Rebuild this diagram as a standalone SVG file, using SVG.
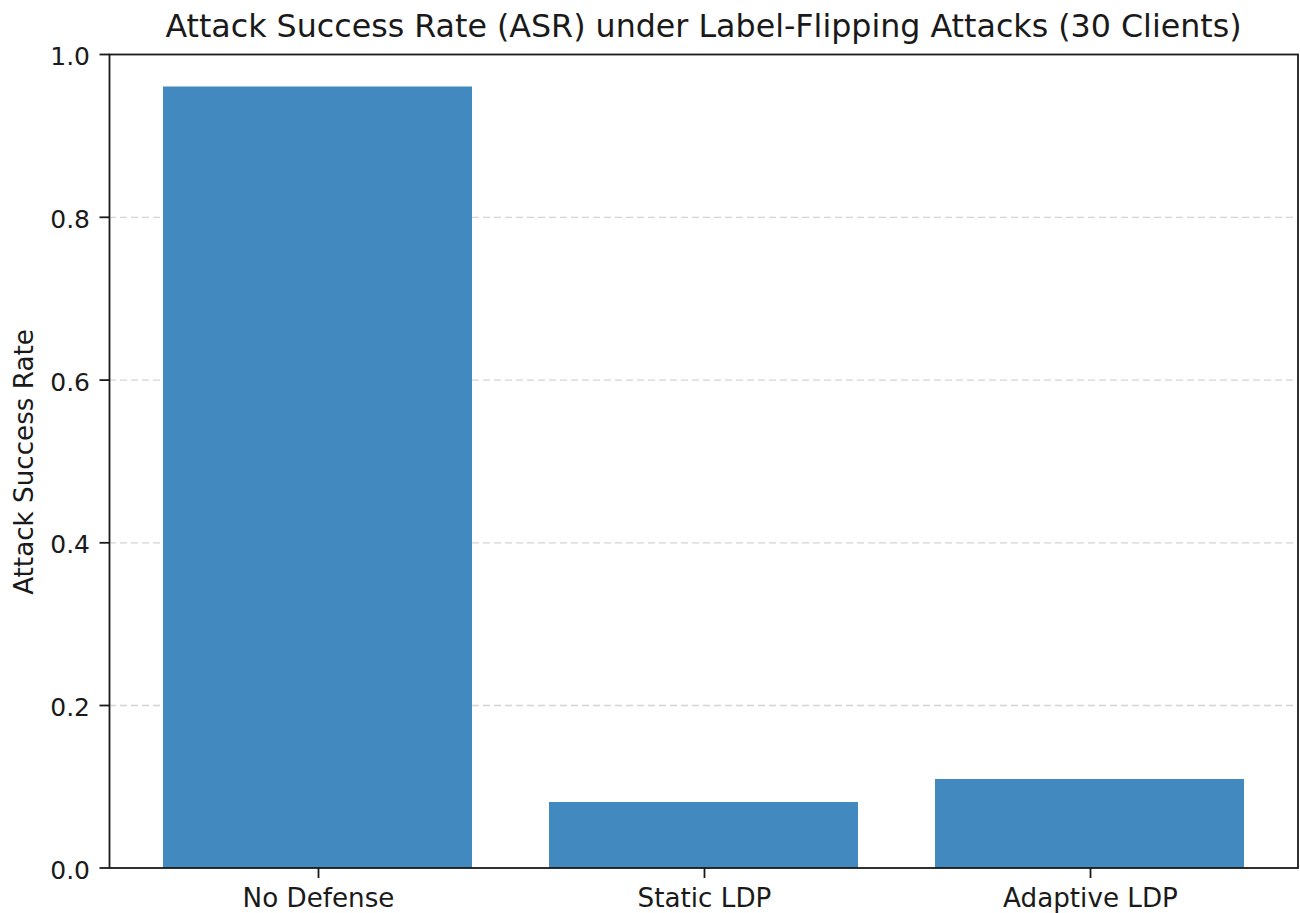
<svg xmlns="http://www.w3.org/2000/svg" width="1300" height="913" viewBox="0 0 1300 913">
<style>
text{font-family:"DejaVu Sans","Liberation Sans",sans-serif;fill:#1a1a1a}
.tick{font-size:26.2px}
.ytick{font-size:25px}
.grid{stroke:#b0b0b0;stroke-opacity:0.55;stroke-width:1.3;stroke-dasharray:7 4}
.bar{fill:#4189bf}
.axis{stroke:#1a1a1a;stroke-width:1.8;fill:none}
</style>
<rect width="1300" height="913" fill="#ffffff"/>
<g id="grid">
<line class="grid" x1="109" y1="217.3" x2="1298" y2="217.3"/>
<line class="grid" x1="109" y1="380.1" x2="1298" y2="380.1"/>
<line class="grid" x1="109" y1="542.8" x2="1298" y2="542.8"/>
<line class="grid" x1="109" y1="705.5" x2="1298" y2="705.5"/>
</g>
<g id="bars">
<rect id="bar-no-defense" class="bar" x="163" y="86.5" width="309" height="781.5"/>
<rect id="bar-static-ldp" class="bar" x="549" y="802" width="309" height="66"/>
<rect id="bar-adaptive-ldp" class="bar" x="935" y="779" width="309" height="89"/>
</g>
<g id="axes">
<rect class="axis" x="109.5" y="54.5" width="1188.5" height="813.5"/>
<g stroke="#1a1a1a" stroke-width="1.8">
<line x1="99.5" y1="868" x2="109.5" y2="868"/>
<line x1="99.5" y1="705.5" x2="109.5" y2="705.5"/>
<line x1="99.5" y1="542.8" x2="109.5" y2="542.8"/>
<line x1="99.5" y1="380.1" x2="109.5" y2="380.1"/>
<line x1="99.5" y1="217.3" x2="109.5" y2="217.3"/>
<line x1="99.5" y1="54.5" x2="109.5" y2="54.5"/>
<line x1="318.5" y1="868" x2="318.5" y2="878"/>
<line x1="704.5" y1="868" x2="704.5" y2="878"/>
<line x1="1090.5" y1="868" x2="1090.5" y2="878"/>
</g>
<g class="ytick" text-anchor="end">
<text x="90" y="878.5">0.0</text>
<text x="90" y="716">0.2</text>
<text x="90" y="553.3">0.4</text>
<text x="90" y="390.6">0.6</text>
<text x="90" y="227.8">0.8</text>
<text x="90" y="65">1.0</text>
</g>
<g class="tick" text-anchor="middle">
<text x="318.5" y="906.5">No Defense</text>
<text x="704.5" y="906.5">Static LDP</text>
<text x="1090.5" y="906.5">Adaptive LDP</text>
</g>
<text x="0" y="0" class="tick" text-anchor="middle" transform="translate(32.5,462) rotate(-90)">Attack Success Rate</text>
<text x="703.5" y="37" text-anchor="middle" font-size="31.7px">Attack Success Rate (ASR) under Label-Flipping Attacks (30 Clients)</text>
</g>
</svg>
